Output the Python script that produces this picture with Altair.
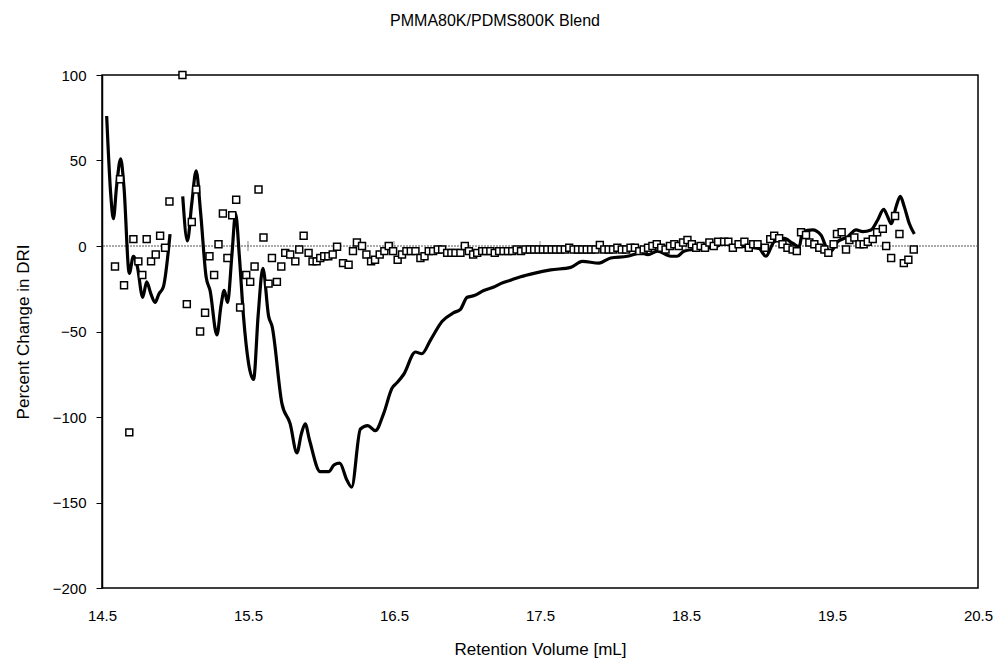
import altair as alt
import pandas as pd

# Square markers (open squares)
sq_x = [14.589, 14.623, 14.651, 14.687, 14.715, 14.749, 14.776, 14.806, 14.836, 14.868,
        14.898, 14.932, 14.962, 15.051, 15.081, 15.115, 15.145, 15.172, 15.206, 15.236,
        15.268, 15.298, 15.328, 15.359, 15.392, 15.419, 15.446, 15.488, 15.515, 15.545,
        15.572, 15.606, 15.641, 15.664, 15.698, 15.728, 15.755, 15.789, 15.824, 15.851,
        15.881, 15.915, 15.942, 15.970, 15.995, 16.022, 16.050, 16.080, 16.110, 16.151,
        16.189, 16.219, 16.246, 16.281, 16.311, 16.343, 16.370, 16.402, 16.434, 16.464,
        16.494, 16.525, 16.555, 16.585, 16.615, 16.647, 16.681, 16.709, 16.738, 16.768,
        16.800, 16.830, 16.864, 16.893, 16.921, 16.955, 16.985, 17.013, 17.042, 17.070,
        17.104, 17.13, 17.16, 17.19, 17.22, 17.25, 17.28, 17.31, 17.34, 17.37,
        17.40, 17.43, 17.46, 17.49, 17.52, 17.55, 17.58, 17.61, 17.64, 17.67,
        17.70, 17.73, 17.76, 17.79, 17.82, 17.85, 17.88, 17.91, 17.94, 17.97,
        18.00, 18.03, 18.06, 18.09, 18.12, 18.15, 18.18, 18.21, 18.24, 18.27,
        18.30, 18.33, 18.36, 18.39, 18.42, 18.45, 18.48, 18.51, 18.54, 18.57,
        18.60, 18.63, 18.66, 18.69, 18.72, 18.761, 18.79, 18.821, 18.86, 18.90,
        18.93, 18.96, 18.99, 19.04, 19.077, 19.104, 19.138, 19.161, 19.195, 19.23,
        19.259, 19.288, 19.322, 19.345, 19.379, 19.413, 19.448, 19.475, 19.511, 19.534,
        19.566, 19.596, 19.619, 19.653, 19.688, 19.717, 19.745, 19.779, 19.809, 19.848,
        19.871, 19.905, 19.932, 19.962, 19.992, 20.023, 20.06]
sq_y = [-12, 39, -23, -109, 4, -9, -17, 4, -9, -5,
        6, -1, 26, 100, -34, 14, 33, -50, -39, -6,
        -17, 1, 19, -7, 18, 27, -36, -17, -21, -12,
        33, 5, -22, -7, -21, -12, -4, -5, -9, -2,
        6, -4, -9, -9, -7, -6, -6, -5, -0.4, -10,
        -11, -3, 2, 0, -5, -9, -8, -5, -3, 0,
        -3, -8, -5, -3, -3, -3, -7, -6, -3, -3,
        -2, -2, -4, -4, -4, -4, 0, -3, -5, -4,
        -3, -3, -3, -4, -3, -3, -3, -3, -2, -3,
        -2, -2, -2, -2, -2, -2, -2, -2, -2, -2,
        -1, -2, -2, -2, -2, -2, -2, 0.6, -2, -2,
        -2, -1, -2, -2, -1, -1, -3, -2, -1, 0,
        1, -1, -2, 0, 1, 0, 2, 3.5, 1, -1,
        0, -1, 2, 0, 2.5, 2.5, 2.5, -1, 1, 2.5,
        -1, 1, 1, -1, 4, 6, 4.5, 1, -1, -2,
        -3, 8, 6.4, 2, 1, -1, -2, -4, 1, 7,
        8, -2, 3.5, 5, 1, 1, 2.5, 4, 8, 10,
        0, -7, 17.5, 7, -10, -8, -2]

# Solid line (two segments, gap after 14.97)
ln_x = [14.532, 14.56, 14.578, 14.60, 14.628, 14.65, 14.687, 14.715, 14.742, 14.779,
        14.806, 14.835, 14.863, 14.89, 14.92, 14.966,
        15.053, 15.085, 15.115, 15.145, 15.175, 15.213, 15.24, 15.287, 15.315, 15.337,
        15.36, 15.39, 15.415, 15.44, 15.469, 15.538, 15.57, 15.602, 15.641, 15.665,
        15.732, 15.789, 15.835, 15.865, 15.892, 15.92, 15.995, 16.052, 16.09, 16.128,
        16.178, 16.21, 16.27, 16.32, 16.372, 16.429, 16.487, 16.52, 16.567, 16.647,
        16.69, 16.75, 16.83, 16.909, 16.955, 17.001, 17.05, 17.115, 17.184, 17.23,
        17.298, 17.367, 17.458, 17.573, 17.71, 17.79, 17.904, 17.984, 18.099, 18.19,
        18.24, 18.304, 18.396, 18.44, 18.487, 18.601, 18.716, 18.76, 18.83, 18.922,
        19.0, 19.047, 19.104, 19.173, 19.23, 19.276, 19.298, 19.367, 19.424, 19.47,
        19.49, 19.539, 19.608, 19.665, 19.71, 19.767, 19.813, 19.854, 19.882, 19.905,
        19.939, 19.968, 19.995, 20.03, 20.064]
ln_y = [76, 30, 16, 35, 51, 35, -16, -6, -12, -30,
        -21, -28, -33, -28, -24, 7,
        29, 3, 25, 44, 20, -18, -26, -52, -35, -26,
        -33, -5, 19, -5, -41, -78, -40, -13, -41, -47,
        -92, -104, -121, -110, -104, -113, -132, -132, -128, -127,
        -137, -141, -107, -105, -108, -98, -83, -80, -75, -62,
        -63, -55, -44, -39, -37, -30, -29, -26, -24, -22,
        -20, -18, -16, -14, -12.5, -9, -10, -7, -6, -4,
        -5, -3, -6, -6, -3, -1.5, 0, 2, 0, -0.5,
        -1.5, -6, 2.5, 4.5, 1.6, -0.4, 8.4, 9.4, 6.4, -2.3,
        -3.3, 2.5, 5.4, 9.4, 8.4, 9.4, 15.2, 21.4, 17, 13,
        23, 29, 23, 13, 7]
ln_seg = [1] * 16 + [2] * (len(ln_x) - 16)

zero_ticks = [15.5, 16.5, 17.5, 18.5, 19.5]
x_ticks = [14.5, 15.5, 16.5, 17.5, 18.5, 19.5, 20.5]
y_ticks = [-200, -150, -100, -50, 0, 50, 100]

sq_df = pd.DataFrame({"x": sq_x, "y": sq_y})
ln_df = pd.DataFrame({"x": ln_x, "y": ln_y, "seg": ln_seg})
zt_df = pd.DataFrame({"x": zero_ticks, "y": [0] * len(zero_ticks)})

FONT = "Liberation Sans"

xscale = alt.Scale(domain=[14.5, 20.5], nice=False, zero=False)
yscale = alt.Scale(domain=[-200, 100], nice=False)

xaxis = alt.Axis(values=x_ticks, format=".1f", title="Retention Volume [mL]",
                 grid=False, ticks=False, domain=False, labelFont=FONT, labelFontSize=15,
                 labelColor="black", labelPadding=20, titleFont=FONT, titleFontSize=17,
                 titleFontWeight="normal", titleColor="black", titlePadding=18,
                 labelFlush=False)
yaxis = alt.Axis(values=y_ticks, title="Percent Change in DRI", grid=False,
                 tickSize=6, tickColor="black", domainColor="black", domainWidth=1.5,
                 labelFont=FONT, labelFontSize=15, labelColor="black", labelPadding=10,
                 titleFont=FONT, titleFontSize=17, titleFontWeight="normal",
                 titleColor="black", titlePadding=20)

zero_rule = alt.Chart(pd.DataFrame({"y": [0]})).mark_rule(
    color="#555555", strokeWidth=1, strokeDash=[2, 1]
).encode(y=alt.Y("y:Q", scale=yscale, axis=yaxis))

zero_tk = alt.Chart(zt_df).mark_tick(
    orient="vertical", color="#555555", thickness=1, size=10
).encode(x=alt.X("x:Q", scale=xscale, axis=xaxis), y=alt.Y("y:Q", scale=yscale))

line = alt.Chart(ln_df).mark_line(
    color="black", strokeWidth=3.2, interpolate="monotone"
).encode(
    x=alt.X("x:Q", scale=xscale, axis=xaxis),
    y=alt.Y("y:Q", scale=yscale, axis=yaxis),
    detail="seg:N",
)

squares = alt.Chart(sq_df).mark_point(
    shape="square", filled=True, fill="white", stroke="black", strokeWidth=1.5,
    size=48, opacity=1
).encode(
    x=alt.X("x:Q", scale=xscale, axis=xaxis),
    y=alt.Y("y:Q", scale=yscale, axis=yaxis),
)

chart = alt.layer(zero_rule, zero_tk, line, squares).properties(
    width=876,
    height=513,
    autosize="none",
    background="white",
    padding={"left": 102, "top": 75, "right": 21, "bottom": 80},
    title=alt.TitleParams("PMMA80K/PDMS800K Blend", font=FONT, fontSize=16,
                          fontWeight="normal", color="black", anchor="middle",
                          offset=39, dx=-45),
).configure_view(stroke="black", strokeWidth=1.5)

chart.save("out.html", embed_options={"renderer": "svg", "actions": False})
